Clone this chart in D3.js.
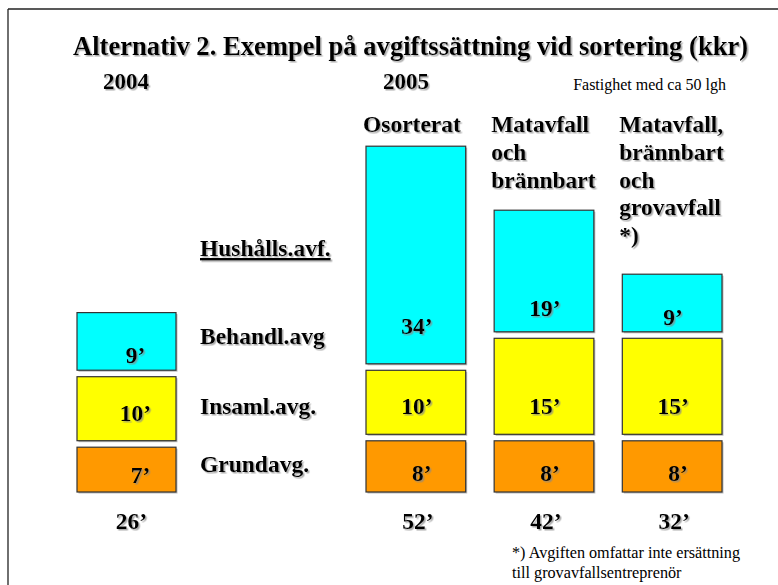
<!DOCTYPE html>
<html>
<head>
<meta charset="utf-8">
<script src="https://cdn.jsdelivr.net/npm/d3@7/dist/d3.min.js"></script>
<style>
  html, body { margin: 0; padding: 0; background: #fff; }
  svg { display: block; }
  text { font-family: "Liberation Serif", "Times New Roman", serif; }
</style>
</head>
<body>
<script>
// ---------- data ----------
const title = "Alternativ 2. Exempel på avgiftssättning vid sortering (kkr)";
const subtitleNote = "Fastighet med ca 50 lgh";
const years = ["2004", "2005"];
const categories = ["2004", "Osorterat", "Matavfall och brännbart", "Matavfall, brännbart och grovavfall *)"];
const categoryYear = ["2004", "2005", "2005", "2005"];
const categoryLabelLines = [[], ["Osorterat"], ["Matavfall", "och", "brännbart"], ["Matavfall,", "brännbart", "och", "grovavfall", "*)"]];
const seriesNames = ["Grundavg.", "Insaml.avg.", "Behandl.avg"];
const groupLabel = "Hushålls.avf.";
const grundavg = [7, 8, 8, 8];
const insamlavg = [10, 10, 15, 15];
const behandlavg = [9, 34, 19, 9];
const totals = [26, 52, 42, 32];
const footnote = ["*) Avgiften omfattar inte ersättning", "till grovavfallsentreprenör"];

// ---------- layout ----------
const W = 778, H = 585;
const colors = ["#FF9900", "#FFFF00", "#00FFFF"];
const gap = 6.5;

const svg = d3.select("body").append("svg").attr("width", W).attr("height", H);
const defs = svg.append("defs");
const f = defs.append("filter").attr("id", "tshadow").attr("x", "-10%").attr("y", "-10%").attr("width", "130%").attr("height", "140%");
f.append("feDropShadow").attr("dx", 1.5).attr("dy", 1.5).attr("stdDeviation", 0.6).attr("flood-color", "#888").attr("flood-opacity", 0.7);

// slide frame
svg.append("line").attr("x1", 8).attr("y1", 9).attr("x2", W).attr("y2", 9).attr("stroke", "#222").attr("stroke-width", 1.3);
svg.append("line").attr("x1", 8).attr("y1", 9).attr("x2", 8).attr("y2", H).attr("stroke", "#222").attr("stroke-width", 1.3);

// table
const table = categories.map((c, i) => ({
  category: c, year: categoryYear[i],
  [seriesNames[0]]: grundavg[i], [seriesNames[1]]: insamlavg[i], [seriesNames[2]]: behandlavg[i],
  total: totals[i], lines: categoryLabelLines[i]
}));
const stacked = d3.stack().keys(seriesNames)(table);

// scales
const yearRange = { "2004": [77, 176], "2005": [366, 722] };
const yearPadding = { "2004": 0, "2005": 0.222 };
const xBand = {};
years.forEach(yr => {
  xBand[yr] = d3.scaleBand()
    .domain(table.filter(d => d.year === yr).map(d => d.category))
    .range(yearRange[yr]).paddingInner(yearPadding[yr]).paddingOuter(0);
});
const xOf = d => xBand[d.year](d.category);
const bwOf = d => xBand[d.year].bandwidth();
const y = d3.scaleLinear().domain([0, 52]).range([492, 492 - 52 * 6.4]);

// title
svg.append("text").attr("x", 73).attr("y", 55).attr("font-size", 26.6).attr("font-weight", "bold")
  .attr("filter", "url(#tshadow)").text(title);

// year labels
const yearX = { "2004": 103, "2005": 383 };
years.forEach(yr => {
  svg.append("text").attr("x", yearX[yr]).attr("y", 89).attr("font-size", 23).attr("font-weight", "bold")
    .attr("filter", "url(#tshadow)").text(yr);
});
svg.append("text").attr("x", 726).attr("y", 90).attr("text-anchor", "end").attr("font-size", 16).text(subtitleNote);

// category labels
table.forEach(d => {
  d.lines.forEach((ln, j) => {
    svg.append("text").attr("x", xOf(d) - 3).attr("y", 132 + j * 27.8)
      .attr("font-size", 23.5).attr("font-weight", "bold").attr("filter", "url(#tshadow)").text(ln);
  });
});

// bars
const segTop = (s, li) => y(s[1]) - li * gap;
const segBot = (s, li) => y(s[0]) - li * gap;
stacked.forEach((layer, li) => {
  const g = svg.append("g");
  g.selectAll("rect.sh").data(layer).join("rect").attr("class", "sh")
    .attr("x", s => xOf(s.data) + 1.5).attr("y", s => segTop(s, li) + 1.5)
    .attr("width", s => bwOf(s.data)).attr("height", s => segBot(s, li) - segTop(s, li))
    .attr("fill", "#bbb");
  g.selectAll("rect.bar").data(layer).join("rect").attr("class", "bar")
    .attr("x", s => xOf(s.data)).attr("y", s => segTop(s, li))
    .attr("width", s => bwOf(s.data)).attr("height", s => segBot(s, li) - segTop(s, li))
    .attr("fill", colors[li]).attr("stroke", "#333").attr("stroke-width", 1.2);
});

// value labels (baseline = top + frac*height + offset)
const labelFrac = [0.67, 1, 0.86];
const labelOff = [6, -20, 1];
const labelDx = [6, 1, 1];
stacked.forEach((layer, li) => {
  svg.append("g").selectAll("text").data(layer).join("text")
    .attr("x", s => xOf(s.data) + bwOf(s.data) / 2 + labelDx[li] + (s.data.year === "2004" ? 8 : 0))
    .attr("y", s => segTop(s, li) + labelFrac[li] * (segBot(s, li) - segTop(s, li)) + labelOff[li])
    .attr("text-anchor", "middle").attr("font-size", 23.5).attr("font-weight", "bold")
    .attr("filter", "url(#tshadow)")
    .text(s => (s[1] - s[0]) + "’");
});

// row labels
const legendY = [472, 414, 344];
seriesNames.forEach((n, i) => {
  svg.append("text").attr("x", 200).attr("y", legendY[i]).attr("font-size", 23.5).attr("font-weight", "bold")
    .attr("filter", "url(#tshadow)").text(n);
});
svg.append("text").attr("x", 200).attr("y", 256).attr("font-size", 23.5).attr("font-weight", "bold")
  .attr("filter", "url(#tshadow)").attr("text-decoration", "underline").text(groupLabel);

// totals
svg.append("g").selectAll("text").data(table).join("text")
  .attr("x", d => xOf(d) + bwOf(d) / 2 + (d.year === "2004" ? 5 : 2)).attr("y", 529)
  .attr("text-anchor", "middle").attr("font-size", 23.5).attr("font-weight", "bold")
  .attr("filter", "url(#tshadow)").text(d => d.total + "’");

// footnote
footnote.forEach((t, i) => {
  svg.append("text").attr("x", 512).attr("y", 558 + i * 19.5).attr("font-size", 16.2).text(t);
});
</script>
</body>
</html>
